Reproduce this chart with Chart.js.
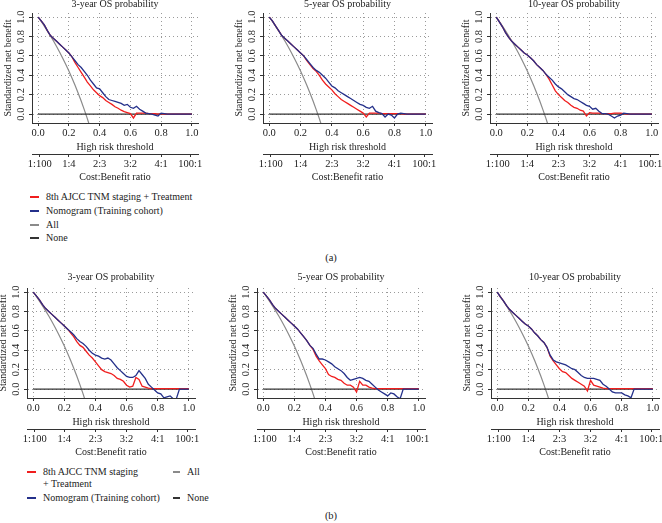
<!DOCTYPE html>
<html><head><meta charset="utf-8">
<script src="https://cdn.jsdelivr.net/npm/chart.js@4.4.0/dist/chart.umd.min.js"></script>
<style>
html,body{margin:0;padding:0;background:#fff;width:662px;height:523px;overflow:hidden;position:relative;font-family:"Liberation Serif",serif;}
canvas{position:absolute;}
.row{position:absolute;height:12px;font-size:10px;line-height:12px;color:#222;white-space:nowrap;}
.row .sw{position:absolute;left:0;top:5px;height:2px;}
.row .tx{position:absolute;top:0;}
.lab{position:absolute;font-size:10.5px;line-height:12px;color:#222;transform:translateX(-50%);}
</style></head><body>
<div id="root"></div>
<script>
// ---------- DATA ----------
const thresholds = [0.00,0.02,0.04,0.06,0.08,0.10,0.12,0.14,0.16,0.18,0.20,0.22,0.24,0.26,0.28,0.30,0.32,0.34,0.36,0.38,0.40,0.42,0.44,0.46,0.48,0.50,0.52,0.54,0.56,0.58,0.60,0.62,0.64,0.66,0.68,0.70,0.72,0.74,0.76,0.78,0.80,0.82,0.84,0.86,0.88,0.90,0.92,0.94,0.96,0.98,1.00];
const allTreated = [1.000,0.955,0.907,0.858,0.806,0.753,0.696,0.638,0.576,0.511,0.443,0.372,0.297,0.218,0.134,0.046,-0.047,-0.147];
const noneThresholds = [0, 1];
const noneBenefit = [0, 0];
const xTickValues = [0, 0.2, 0.4, 0.6, 0.8, 1.0];
const yTickValues = [0, 0.2, 0.4, 0.6, 0.8, 1.0];
const costBenefitLabels = ['1:100','1:4','2:3','3:2','4:1','100:1'];
const costBenefitThresholds = [0.0099, 0.2, 0.4, 0.6, 0.8, 0.9901];
const panelTitles = ['3-year OS probability','5-year OS probability','10-year OS probability'];
const seriesNames = ['8th AJCC TNM staging + Treatment','Nomogram (Training cohort)','All','None'];

// (a)
const tnmA3y = [1.00,0.96,0.92,0.86,0.81,0.78,0.75,0.72,0.69,0.66,0.63,0.59,0.53,0.48,0.43,0.38,0.33,0.29,0.25,0.22,0.19,0.17,0.14,0.12,0.10,0.075,0.06,0.04,0.025,0.015,0.005,-0.04,0.01,0.01,0.01,0.01,0.005,0.005,0.005,0,0.005,0,0,0,0,0,0,0,0,0,0];
const nomoA3y = [1.00,0.96,0.92,0.86,0.81,0.78,0.75,0.72,0.69,0.66,0.63,0.59,0.55,0.51,0.48,0.44,0.40,0.35,0.31,0.27,0.26,0.22,0.18,0.15,0.14,0.13,0.12,0.11,0.09,0.10,0.07,0.06,0.08,0.05,0.03,0.01,0.005,0,-0.01,-0.02,0.01,0.005,0,0,0,0,0,0,0,0,0];
const tnmA5y = [1.00,0.96,0.91,0.86,0.81,0.78,0.75,0.72,0.69,0.66,0.63,0.60,0.55,0.51,0.47,0.44,0.40,0.35,0.31,0.28,0.25,0.21,0.18,0.15,0.13,0.11,0.09,0.07,0.05,0.03,0.01,-0.03,0.01,0.01,0.01,0.01,0.005,0.005,0.005,0.005,0.005,0.005,0.005,0,0,0,0,0,0,0,0];
const nomoA5y = [1.00,0.96,0.91,0.86,0.81,0.78,0.75,0.72,0.69,0.66,0.63,0.60,0.56,0.52,0.48,0.45,0.43,0.40,0.37,0.33,0.29,0.27,0.24,0.22,0.20,0.18,0.16,0.14,0.12,0.10,0.09,0.07,0.06,0.08,0.03,0.015,0.005,-0.03,0,-0.01,-0.04,0,0.01,0.005,0,0,0,0,0,0,0];
const tnmA10y = [1.00,0.95,0.90,0.84,0.79,0.75,0.72,0.69,0.66,0.63,0.61,0.58,0.55,0.51,0.48,0.45,0.41,0.36,0.30,0.24,0.20,0.17,0.14,0.12,0.09,0.07,0.06,0.04,0.03,-0.02,0.015,0.01,0.01,0.01,0.005,0.005,0.005,0.005,0.01,0.01,0.01,0.005,0,0,0,0,0,0,0,0,0];
const nomoA10y = [1.00,0.95,0.90,0.84,0.79,0.75,0.72,0.69,0.66,0.63,0.61,0.58,0.55,0.51,0.48,0.45,0.41,0.38,0.35,0.31,0.28,0.26,0.23,0.20,0.18,0.16,0.15,0.13,0.11,0.09,0.08,0.05,0.06,0.03,0.005,0.005,0,-0.02,-0.04,-0.02,-0.01,0.01,0.005,0,0,0,0,0,0,0,0];
// (b)
const tnmB3y = [1.00,0.96,0.92,0.87,0.83,0.80,0.77,0.74,0.71,0.68,0.65,0.62,0.58,0.54,0.49,0.45,0.43,0.39,0.35,0.32,0.28,0.24,0.20,0.18,0.17,0.16,0.14,0.11,0.10,0.08,0.04,0.02,0.03,0.12,0.10,0.03,0.02,0.01,0.005,0.005,0.005,0.005,0.005,0.005,0.005,0.005,0.005,0.005,0.005,0.005,0.005];
const nomoB3y = [1.00,0.96,0.92,0.87,0.83,0.80,0.77,0.74,0.71,0.68,0.65,0.62,0.59,0.56,0.52,0.49,0.47,0.44,0.40,0.37,0.35,0.34,0.32,0.31,0.32,0.30,0.26,0.22,0.19,0.16,0.13,0.12,0.12,0.14,0.19,0.15,0.11,0.05,0.02,-0.01,-0.04,-0.05,-0.09,-0.08,-0.07,-0.10,-0.10,0,0,0,0];
const tnmB5y = [1.00,0.96,0.92,0.87,0.83,0.80,0.77,0.74,0.71,0.68,0.65,0.62,0.58,0.54,0.50,0.45,0.41,0.34,0.29,0.25,0.21,0.15,0.13,0.12,0.10,0.09,0.06,0.04,0.04,0.02,-0.03,0.08,0.04,0.04,0.02,0.01,0.005,0.005,0.005,0.005,0.005,0.005,0.005,0.005,0.005,0.005,0.005,0.005,0.005,0.005,0.005];
const nomoB5y = [1.00,0.96,0.92,0.87,0.83,0.80,0.77,0.74,0.71,0.68,0.65,0.62,0.58,0.54,0.50,0.45,0.42,0.36,0.31,0.31,0.30,0.28,0.26,0.23,0.21,0.19,0.16,0.12,0.09,0.10,0.11,0.12,0.11,0.09,0.08,0.05,0.02,-0.01,-0.03,-0.05,-0.07,-0.04,-0.05,-0.08,-0.10,0,0,0,0,0,0];
const tnmB10y = [1.00,0.95,0.91,0.86,0.82,0.79,0.76,0.73,0.70,0.67,0.65,0.62,0.58,0.55,0.51,0.48,0.43,0.34,0.29,0.25,0.21,0.18,0.17,0.14,0.11,0.09,0.07,0.05,0.03,-0.02,0.09,0.04,0.03,0.02,0.01,0.005,0.005,0.005,0.005,0.005,0.005,0.005,0.005,0.005,0.005,0.005,0.005,0.005,0.005,0.005,0.005];
const nomoB10y = [1.00,0.95,0.91,0.86,0.82,0.79,0.76,0.73,0.70,0.67,0.65,0.62,0.58,0.55,0.51,0.48,0.43,0.35,0.30,0.28,0.27,0.26,0.25,0.23,0.21,0.20,0.17,0.14,0.12,0.11,0.11,0.11,0.10,0.09,0.05,0.03,0,-0.03,-0.04,-0.04,-0.04,-0.06,-0.07,-0.09,0,0,0,0,0,0,0];

// ---------- STYLE / LAYOUT ----------
const RED = '#f01e1e', BLUE = '#24308a', GRAY = '#8a8a8a', DARK = '#333333', TEXT = '#222222';
const FAMILY = "'Liberation Serif', 'DejaVu Serif', serif";
Chart.defaults.font.family = FAMILY;
Chart.defaults.color = TEXT;
const YW = 32, RP = 22, XH1 = 31, XH2 = 30;
const Y_MIN = -0.092, Y_MAX = 1.042, X_MIN = -0.04, X_MAX = 1.04;

const panels = [
  {title: panelTitles[0], tnm: tnmA3y,  nomo: nomoA3y,  x0: 38,  x1: 192, y1: 17,  y0: 114, tOff: 9},
  {title: panelTitles[1], tnm: tnmA5y,  nomo: nomoA5y,  x0: 269, x1: 426, y1: 17,  y0: 114, tOff: 9},
  {title: panelTitles[2], tnm: tnmA10y, nomo: nomoA10y, x0: 496, x1: 652, y1: 17,  y0: 114, tOff: 9},
  {title: panelTitles[0], tnm: tnmB3y,  nomo: nomoB3y,  x0: 33,  x1: 189, y1: 292, y0: 389, tOff: 11},
  {title: panelTitles[1], tnm: tnmB5y,  nomo: nomoB5y,  x0: 263, x1: 419, y1: 292, y0: 389, tOff: 11},
  {title: panelTitles[2], tnm: tnmB10y, nomo: nomoB10y, x0: 497, x1: 653, y1: 292, y0: 389, tOff: 11}
];

function pts(xs, ys) { return ys.map((y, i) => ({x: xs[i], y: y})); }
function fixedTicks(values) { return scale => { scale.ticks = values.map(v => ({value: v})); }; }

const root = document.getElementById('root');
panels.forEach(p => {
  const W = p.x1 - p.x0, H = p.y0 - p.y1;
  const cl = p.x0 + X_MIN * W, cr = p.x0 + X_MAX * W;
  const ct = p.y0 - Y_MAX * H, cb = p.y0 - Y_MIN * H;
  const TH = p.tOff + 7;
  const left = Math.round(cl - YW), top = Math.round(ct - TH);
  const cw = Math.round(cr - left + RP);
  const ch = Math.round(cb - top + XH1 + XH2);
  const cv = document.createElement('canvas');
  cv.width = cw; cv.height = ch;
  cv.style.left = left + 'px'; cv.style.top = top + 'px';
  cv.style.width = cw + 'px'; cv.style.height = ch + 'px';
  root.appendChild(cv);
  const line = (label, data, color, w) => ({label, data, borderColor: color, backgroundColor: color, borderWidth: w, pointRadius: 0, pointHoverRadius: 0, tension: 0, fill: false});
  new Chart(cv, {
    type: 'line',
    data: {datasets: [
      line(seriesNames[1], pts(thresholds, p.nomo), BLUE, 1.3),
      line(seriesNames[0], pts(thresholds, p.tnm), RED, 1.3),
      line(seriesNames[3], pts(noneThresholds, noneBenefit), DARK, 1.2),
      line(seriesNames[2], pts(thresholds, allTreated), GRAY, 1.2)
    ]},
    options: {
      responsive: false, animation: false, events: [],
      layout: {padding: {left: 0, right: RP, top: 0, bottom: 0}},
      plugins: {
        legend: {display: false}, tooltip: {enabled: false},
        title: {display: true, text: p.title, fullSize: false, color: TEXT,
                font: {size: 10, weight: 'normal', lineHeight: 1.2},
                padding: {top: 1, bottom: TH - 13}}
      },
      scales: {
        y: {
          type: 'linear', position: 'left', min: Y_MIN, max: Y_MAX,
          afterBuildTicks: fixedTicks(yTickValues),
          afterFit: s => { s.width = YW; },
          ticks: {minRotation: 90, maxRotation: 90, crossAlign: 'center', padding: 1,
                  font: {size: 10.5}, color: TEXT, callback: v => Number(v).toFixed(1)},
          grid: {color: '#9a9a9a', lineWidth: 1, tickLength: 3, tickColor: DARK, tickWidth: 1, tickBorderDash: []},
          border: {display: true, color: DARK, width: 1, dash: [1, 3]},
          title: {display: true, text: 'Standardized net benefit', color: TEXT,
                  font: {size: 10, lineHeight: 1.2}, padding: {top: 2.5, bottom: 0}}
        },
        x: {
          type: 'linear', position: 'bottom', weight: 0, min: X_MIN, max: X_MAX,
          afterBuildTicks: fixedTicks(xTickValues),
          afterFit: s => { s.height = XH1; },
          ticks: {maxRotation: 0, minRotation: 0, autoSkip: false, padding: 1,
                  font: {size: 10.5}, color: TEXT, callback: v => Number(v).toFixed(1)},
          grid: {color: '#9a9a9a', lineWidth: 1, tickLength: 3, tickColor: DARK, tickWidth: 1, tickBorderDash: []},
          border: {display: true, color: DARK, width: 1, dash: [1, 3]},
          title: {display: true, text: 'High risk threshold', color: TEXT,
                  font: {size: 10, lineHeight: 1.2}, padding: {top: 0, bottom: 1}}
        },
        x2: {
          type: 'linear', axis: 'x', position: 'bottom', weight: 1, min: X_MIN, max: X_MAX,
          afterBuildTicks: fixedTicks(costBenefitThresholds),
          afterFit: s => { s.height = XH2; },
          ticks: {maxRotation: 0, minRotation: 0, autoSkip: false, padding: 1,
                  font: {size: 10.5}, color: TEXT, callback: (v, i) => costBenefitLabels[i]},
          grid: {drawOnChartArea: false, tickLength: 3, tickColor: DARK, tickWidth: 1, tickBorderDash: []},
          border: {display: true, color: DARK, width: 1},
          title: {display: true, text: 'Cost:Benefit ratio', color: TEXT,
                  font: {size: 10, lineHeight: 1.2}, padding: {top: 0, bottom: 1}}
        }
      }
    }
  });
});

// ---------- LEGENDS & PANEL LABELS (HTML) ----------
function legendRow(x, yc, color, swW, textX, txt) {
  const r = document.createElement('div');
  r.className = 'row';
  r.style.left = x + 'px'; r.style.top = Math.round(yc - 6) + 'px';
  if (color) {
    const s = document.createElement('span');
    s.className = 'sw'; s.style.width = swW + 'px'; s.style.background = color;
    r.appendChild(s);
  }
  const t = document.createElement('span');
  t.className = 'tx'; t.style.left = textX + 'px'; t.textContent = txt;
  r.appendChild(t);
  document.body.appendChild(r);
}
function panelLabel(txt, xc, yc) {
  const d = document.createElement('div');
  d.className = 'lab'; d.textContent = txt;
  d.style.left = xc + 'px'; d.style.top = (yc - 6) + 'px';
  document.body.appendChild(d);
}
// legend (a): one row per series
legendRow(30, 197, RED,  9, 16, seriesNames[0]);
legendRow(30, 211, BLUE, 9, 16, seriesNames[1]);
legendRow(30, 225, GRAY, 9, 16, seriesNames[2]);
legendRow(30, 238, DARK, 9, 16, seriesNames[3]);
// legend (b): two columns, first entry wrapped
legendRow(27, 472, RED,  9, 16, '8th AJCC TNM staging');
legendRow(27, 484, null, 9, 16, '+ Treatment');
legendRow(27, 498, BLUE, 9, 16, seriesNames[1]);
legendRow(173, 472, GRAY, 7, 14, seriesNames[2]);
legendRow(173, 498, DARK, 7, 14, seriesNames[3]);
panelLabel('(a)', 331, 258);
panelLabel('(b)', 331, 516);
</script>
</body></html>
